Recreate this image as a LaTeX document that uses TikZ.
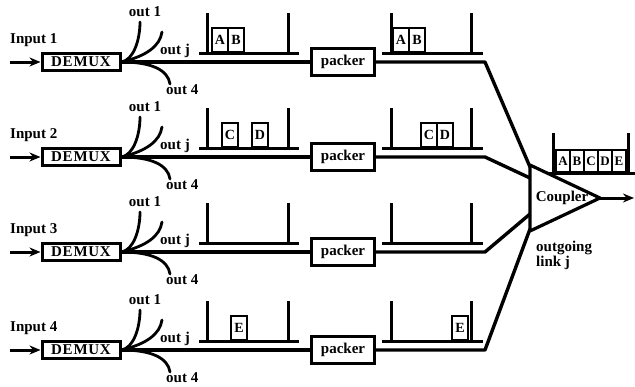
\documentclass[tikz,border=0pt]{standalone}
\usepackage{fontspec}
\setmainfont{Liberation Serif}
\usetikzlibrary{arrows.meta}
\begin{document}
\begin{tikzpicture}[x=1pt,y=-1pt,
 lbl/.style={font=\fontsize{15}{15}\selectfont\bfseries, inner sep=0pt},
 demux/.style={draw, line width=3pt, minimum width=78pt, minimum height=17pt, inner sep=0pt, font=\fontsize{15}{15}\selectfont\bfseries\addfontfeatures{LetterSpace=5}},
 packer/.style={draw, line width=3.4pt, minimum width=63pt, minimum height=27pt, inner sep=0pt, font=\fontsize{15}{15}\selectfont\bfseries},
 pkt/.style={draw, line width=2.4pt, minimum width=16pt, minimum height=24pt, inner sep=0pt, anchor=south, font=\fontsize{14}{14}\selectfont\bfseries},
 cpkt/.style={pkt, minimum width=14pt, minimum height=22pt, font=\fontsize{13}{13}\selectfont\bfseries},
 wire/.style={line width=3.4pt},
 fan/.style={line width=2.8pt, line cap=round},
 buf/.style={line width=3pt},
 inarrow/.style={line width=3pt, -{Stealth[length=11pt,width=9pt]}},
]
\useasboundingbox (0,0) rectangle (635,386);
\coordinate (tA) at (530,165);
\coordinate (tB) at (530,231);
\coordinate (tC) at (600,198);
\foreach \i/\y/\cy in {1/62/167, 2/157/178, 3/252/214, 4/350/229}{
  \coordinate (in\i) at (10,\y);
  \node[demux] (dem\i) at (81,\y) {DEMUX};
  \node[lbl, anchor=west] (inlab\i) at (10,\y-22) {Input \i};
  \draw[inarrow] (in\i) -- (dem\i.west);
  \coordinate (o1\i) at (140,\y-40);
  \coordinate (oj\i) at (162,\y-30);
  \coordinate (o4\i) at (170,\y+22);
  \draw[fan] (dem\i.east) .. controls +(12,-2) and +(0,18) .. (o1\i);
  \draw[fan] (dem\i.east) .. controls +(25,-6) and +(-2,14) .. (oj\i);
  \draw[fan] (dem\i.east) .. controls +(30,0) and +(-2,-14) .. (o4\i);
  \node[lbl] (o1lab\i) at (145,\y-50) {out 1};
  \node[lbl, anchor=west] (ojlab\i) at (160,\y-11) {out j};
  \node[lbl, anchor=west] (o4lab\i) at (166,\y+28) {out 4};
  \node[packer] (pk\i) at (343,\y) {packer};
  \coordinate (j\i) at (485,\y);
  \coordinate (c\i) at (530,\cy);
  \draw[wire] (dem\i.east) -- (pk\i.west);
  \draw[wire, line join=round] (pk\i.east) -- (j\i) -- (c\i);
  \draw[buf] (199,\y-9) -- (299,\y-9) (207,\y-9) -- (207,\y-49) (288,\y-9) -- (288,\y-49);
  \draw[buf] (382,\y-9) -- (483,\y-9) (391,\y-9) -- (391,\y-49) (471,\y-9) -- (471,\y-49);
}
% packets
\node[pkt] (p1a) at (220,53) {A};
\node[pkt] (p1b) at (236,53) {B};
\node[pkt] (q1a) at (401,53) {A};
\node[pkt] (q1b) at (417,53) {B};
\node[pkt] (p2c) at (230,148) {C};
\node[pkt] (p2d) at (260,148) {D};
\node[pkt] (q2c) at (429,148) {C};
\node[pkt] (q2d) at (445,148) {D};
\node[pkt] (p4e) at (239,341) {E};
\node[pkt] (q4e) at (460,341) {E};
% coupler
\draw[line width=3.2pt, line join=round] (tA) -- (tC) -- (tB) -- cycle;
\node[lbl] (coup) at (562,198) {Coupler};
\coordinate (outl) at (634,198);
\draw[inarrow] (tC) -- (outl);
\node[lbl, align=left, anchor=north west] (olab) at (536,241) {outgoing\\link j};
\draw[buf] (549,173) -- (635,173) (553,173) -- (553,133) (628,173) -- (628,133);
\node[cpkt] (ca) at (563,173) {A};
\node[cpkt] (cb) at (577,173) {B};
\node[cpkt] (cc) at (591,173) {C};
\node[cpkt] (cd) at (605,173) {D};
\node[cpkt] (ce) at (619,173) {E};
\end{tikzpicture}
\end{document}
